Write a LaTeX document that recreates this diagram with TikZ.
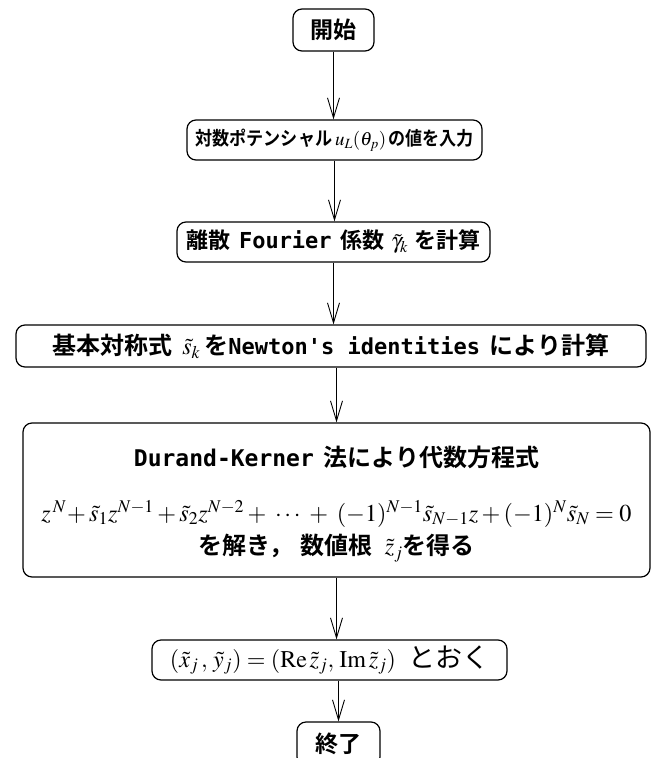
\documentclass[tikz,border=0pt]{standalone}
\usepackage{mathptmx}
\usepackage[no-math]{fontspec}
\setmainfont{Liberation Serif}
\newfontfamily\jp{Noto Sans CJK JP}[UprightFont=* Bold]
\newfontfamily\jpr{Noto Sans CJK JP}
\newfontfamily\jpn{Noto Sans CJK JP}[UprightFont=* Bold, FakeStretch=0.9]
\newfontfamily\mono{DejaVu Sans Mono}[UprightFont=* Bold]
\usetikzlibrary{arrows.meta}
\newcommand{\fs}[1]{\fontsize{#1}{#1}\selectfont}
\begin{document}
\begin{tikzpicture}[x=1pt,y=-1pt,
  box/.style={draw, line width=1.2pt, rounded corners=9pt, inner sep=0pt, align=center},
  arr/.style={line width=0.9pt, -{Straight Barb[length=20pt,width=12pt,line width=0.9pt]}}]
\useasboundingbox[fill=white] (0,0) rectangle (652,758);

\node[box, minimum width=81pt, minimum height=42pt, font=\jp\fs{23}] (start) at (333.5,30) {開始};

\node[box, minimum width=295pt, minimum height=40pt, font=\fs{19}] (b2) at (334.5,140)
  {{\jpn 対数ポテンシャル}\hspace{.15em}$u_L(\theta_p)$\hspace{.1em}{\jpn の値を入力}};

\node[box, minimum width=313pt, minimum height=40pt, font=\fs{22}] (b3) at (333.5,242)
  {{\jp 離散}\hspace{.4em}{\mono Fourier}\hspace{.4em}{\jp 係数}\hspace{.3em}$\tilde{\gamma}_k$\hspace{.3em}{\jp を計算}};

\node[box, minimum width=630pt, minimum height=42pt, font=\fs{24}] (b4) at (331,346)
  {{\jp 基本対称式}\hspace{.4em}$\tilde{s}_k$\,{\jp を}{\mono\fs{22}Newton's identities}\hspace{.4em}{\jp により計算}};

\node[box, minimum width=627pt, minimum height=154pt, font=\fs{24}] (b5) at (336.5,500)
  {\rule{0pt}{28pt}{\mono\fs{23}Durand-Kerner}\hspace{.4em}{\jp 法により代数方程式}\\[31pt]
   \resizebox{590pt}{!}{$z^{\,N}\!+\tilde{s}_1z^{N-1}+\tilde{s}_2z^{N-2}+\;\cdots\;+\;(-1)^{N-1}\tilde{s}_{N-1}z+(-1)^{N}\tilde{s}_N=0$}\\[6pt]
   {\jp を解き，}\hspace{.3em}{\jp 数値根}\hspace{.5em}$\tilde{z}_j${\jp を得る}};

\node[box, minimum width=355pt, minimum height=40pt, font=\fs{24}] (b6) at (329.5,660)
  {$(\tilde{x}_j\,,\,\tilde{y}_j)=(\mathrm{Re}\,\tilde{z}_j,\,\mathrm{Im}\,\tilde{z}_j)$\hspace{.5em}{\jpr\fs{27}とおく}};

\node[box, minimum width=83pt, minimum height=44pt, font=\jp\fs{23}] (b7) at (338.5,744) {終了};

\draw[arr] (start.south) -- (start.south |- b2.north);
\draw[arr] (b2.south) -- (b2.south |- b3.north);
\draw[arr] (b3.south) -- (b3.south |- b4.north);
\draw[arr] (b5.north |- b4.south) -- (b5.north);
\draw[arr] (b5.south) -- (b5.south |- b6.north);
\draw[arr] (b7.north |- b6.south) -- (b7.north);
\end{tikzpicture}
\end{document}
